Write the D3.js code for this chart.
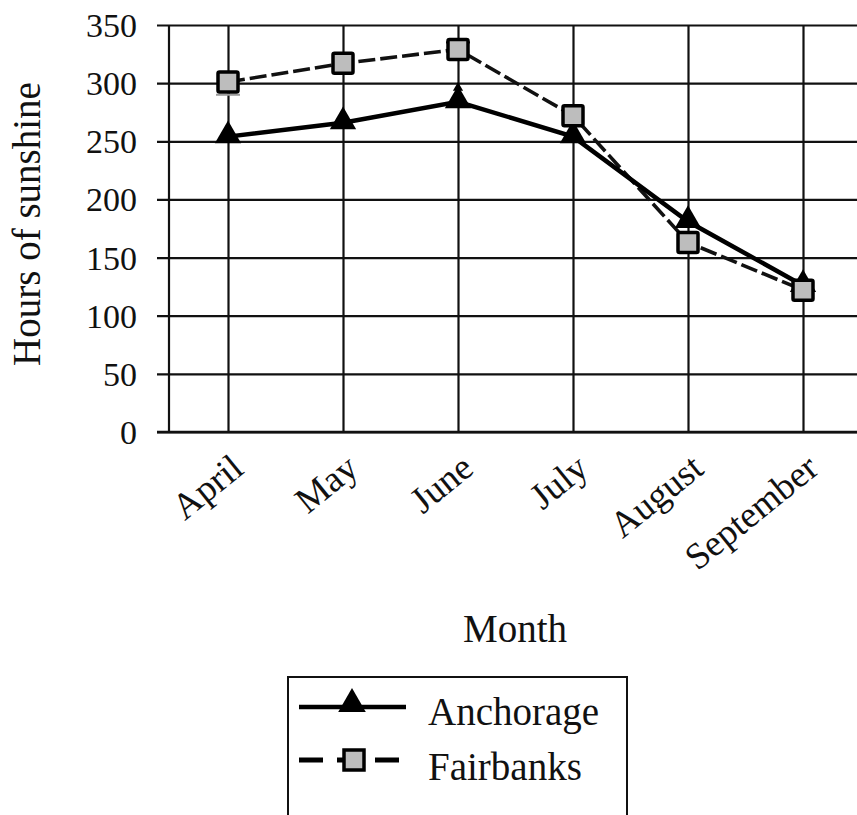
<!DOCTYPE html>
<html>
<head>
<meta charset="utf-8">
<script src="https://cdn.jsdelivr.net/npm/d3@7"></script>
<style>
  html, body { margin: 0; padding: 0; background: #fff; }
  svg { display: block; }
  text { font-family: "Liberation Serif", "Times New Roman", serif; fill: #111; }
</style>
</head>
<body>
<svg id="chart" width="857" height="815"></svg>
<script>
const months = ["April", "May", "June", "July", "August", "September"];
const anchorage = [254, 266, 284, 254, 181, 126];
const fairbanks = [301, 317, 329, 272, 163, 122];
const yTicks = [0, 50, 100, 150, 200, 250, 300, 350];
const seriesNames = ["Anchorage", "Fairbanks"];
// small error caps visible in the picture: [month, value, colour]
const fairbanksCaps = [["June", 335, "#111"], ["April", 290, "#999"]];
const anchorageCaps = [["June", 296]];

(function () {
const svg = d3.select("#chart");
const pLeft = 170.5, pRight = 860.5, pTop = 25, pBottom = 432;

const x = d3.scalePoint().domain(months).range([pLeft, pRight]).padding(0.5);
const y = d3.scaleLinear().domain([0, 350]).range([pBottom, pTop]);

// horizontal gridlines + y tick labels
const yAxis = d3.axisLeft(y).tickValues(yTicks).tickSize(-(pRight - 157)).tickPadding(20).tickFormat(d3.format("d"));
const gy = svg.append("g").attr("transform", "translate(157,0)").call(yAxis);
gy.select(".domain").remove();
gy.selectAll(".tick line").attr("stroke", "#111").attr("stroke-width", 2.2);
gy.selectAll(".tick text").attr("font-size", 34).attr("dy", "0.34em")
  .style("font-family", "'Liberation Serif', serif").attr("fill", "#111");

// vertical gridlines via bottom axis
const xAxis = d3.axisBottom(x).tickSize(-(pBottom - pTop)).tickPadding(0);
const gx = svg.append("g").attr("transform", `translate(0,${pBottom})`).call(xAxis);
gx.select(".domain").remove();
gx.selectAll(".tick line").attr("stroke", "#111").attr("stroke-width", 2.2);
gx.selectAll(".tick text")
  .attr("font-size", 37)
  .style("font-family", "'Liberation Serif', serif")
  .attr("fill", "#111")
  .attr("text-anchor", "end")
  .attr("x", 0).attr("y", 0).attr("dy", 0)
  .attr("transform", "translate(17,40) rotate(-39)");

// y axis line
svg.append("line").attr("x1", 169).attr("x2", 169).attr("y1", pTop).attr("y2", pBottom)
  .attr("stroke", "#111").attr("stroke-width", 2.2);
// bottom axis line
svg.append("line").attr("x1", 157).attr("x2", pRight).attr("y1", pBottom).attr("y2", pBottom)
  .attr("stroke", "#111").attr("stroke-width", 2.6);

// Axis titles
svg.append("text").attr("transform", "translate(40,224) rotate(-90)")
  .attr("text-anchor", "middle").attr("font-size", 39).text("Hours of sunshine");
svg.append("text").attr("x", 515).attr("y", 642)
  .attr("text-anchor", "middle").attr("font-size", 39).text("Month");

// error caps
fairbanksCaps.forEach(([m, v, c]) => {
  const fi = months.indexOf(m);
  svg.append("line").attr("x1", x(m)).attr("x2", x(m)).attr("y1", y(fairbanks[fi])).attr("y2", y(v))
    .attr("stroke", c).attr("stroke-width", 2);
  svg.append("line").attr("x1", x(m) - 12).attr("x2", x(m) + 12).attr("y1", y(v)).attr("y2", y(v))
    .attr("stroke", c).attr("stroke-width", 2);
});

// Lines
const lineGen = d3.line().x((d, i) => x(months[i])).y(d => y(d));
svg.append("path").datum(fairbanks).attr("d", lineGen).attr("fill", "none")
  .attr("stroke", "#111").attr("stroke-width", 3.6).attr("stroke-dasharray", "17,5");
svg.append("path").datum(anchorage).attr("d", lineGen).attr("fill", "none")
  .attr("stroke", "#000").attr("stroke-width", 4.5);

// markers
const tri = d3.symbol().type(d3.symbolTriangle).size(300);
svg.selectAll(".tri").data(anchorage).enter().append("path")
  .attr("d", tri).attr("transform", (d, i) => `translate(${x(months[i])},${y(d) - 1})`)
  .attr("fill", "#000");
anchorageCaps.forEach(([m, v]) => {
  svg.append("path").attr("d", d3.symbol().type(d3.symbolTriangle).size(45))
    .attr("transform", `translate(${x(m)},${y(v)})`).attr("fill", "#000");
});
svg.selectAll(".sq").data(fairbanks).enter().append("rect")
  .attr("x", (d, i) => x(months[i]) - 10).attr("y", d => y(d) - 10)
  .attr("width", 20).attr("height", 20).attr("rx", 1.5)
  .attr("fill", "#bdbdbd").attr("stroke", "#000").attr("stroke-width", 3.5);

// Legend
const lg = svg.append("g");
lg.append("rect").attr("x", 288).attr("y", 677).attr("width", 339).attr("height", 160)
  .attr("fill", "#fff").attr("stroke", "#111").attr("stroke-width", 2);
lg.append("line").attr("x1", 299).attr("x2", 406).attr("y1", 707).attr("y2", 707)
  .attr("stroke", "#000").attr("stroke-width", 4.5);
lg.append("path").attr("d", d3.symbol().type(d3.symbolTriangle).size(330))
  .attr("transform", "translate(352,704)").attr("fill", "#000");
lg.append("line").attr("x1", 299).attr("x2", 406).attr("y1", 760).attr("y2", 760)
  .attr("stroke", "#000").attr("stroke-width", 5).attr("stroke-dasharray", "24,14");
lg.append("rect").attr("x", 344).attr("y", 750).attr("width", 20).attr("height", 20)
  .attr("fill", "#bdbdbd").attr("stroke", "#000").attr("stroke-width", 3.5);
lg.append("text").attr("x", 428).attr("y", 725).attr("font-size", 39).text(seriesNames[0]);
lg.append("text").attr("x", 428).attr("y", 780).attr("font-size", 39).text(seriesNames[1]);
})();
</script>
</body>
</html>
